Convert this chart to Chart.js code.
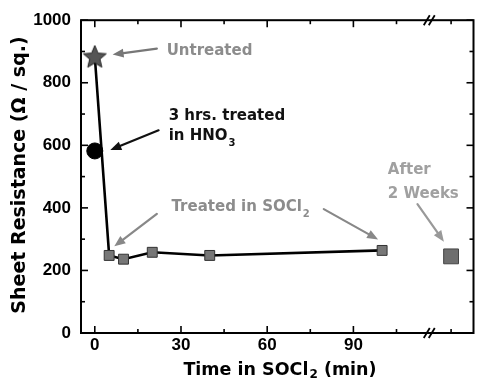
<!DOCTYPE html>
<html><head><meta charset="utf-8">
<script src="https://cdn.jsdelivr.net/npm/chart.js@4"></script>
<style>html,body{margin:0;padding:0;background:#fff}#c{display:block}</style>
</head><body><canvas id="c" width="485" height="386"></canvas>
<script>
// ---- data ----
const socl2Times = [0, 5, 10, 20, 40, 100];
const socl2Res = [884, 248, 236, 258, 248, 264];
const hno3Time = [0];
const hno3Res = [582];
const afterTime = [124];
const afterRes = [245];
const xTickLabels = [0, 30, 60, 90];
const yTickLabels = [0, 200, 400, 600, 800, 1000];
const xMinorTicks = [15, 45, 75, 105, 124];
const yMinorTicks = [100, 300, 500, 700, 900];
const xBreakAt = 116.4;

const FONT = '"Liberation Sans", Arial, sans-serif';
const WFONT = '"DejaVu Sans", "Liberation Sans", sans-serif';

function makeStar(size, fill) {
  const c = document.createElement('canvas');
  c.width = c.height = size;
  const g = c.getContext('2d');
  const cx = size / 2, cy = size / 2 + 1, R = size / 2 - 1, r = R * 0.45;
  g.beginPath();
  for (let i = 0; i < 10; i++) {
    const a = -Math.PI / 2 + i * Math.PI / 5;
    const rad = i % 2 ? r : R;
    g.lineTo(cx + rad * Math.cos(a), cy + rad * Math.sin(a));
  }
  g.closePath();
  g.fillStyle = fill; g.fill();
  g.strokeStyle = '#222'; g.lineWidth = 1; g.stroke();
  return c;
}
const starImg = makeStar(26, '#555');

const pts = (xs, ys) => xs.map((x, i) => ({ x: x, y: ys[i] }));

// annotation layout (data coordinates of the axes)
const notes = [
  { text: 'Untreated', x: 25, y: 902, color: '#8c8c8c' },
  { text: '3 hrs. treated', x: 25.7, y: 692, color: '#111' },
  { text: 'in HNO', sub: '3', x: 25.7, y: 629, color: '#111' },
  { text: 'Treated in SOCl', sub: '2', x: 26.7, y: 403, color: '#8c8c8c' },
  { text: 'After', x: 102, y: 522, color: '#a0a0a0' },
  { text: '2 Weeks', x: 102, y: 443, color: '#a0a0a0' }
];
const arrows = [
  { x1: 21.6, y1: 909, x2: 6.2, y2: 890, color: '#777' },
  { x1: 22.2, y1: 648, x2: 5.4, y2: 585, color: '#111' },
  { x1: 21.6, y1: 381, x2: 6.8, y2: 277, color: '#888' },
  { x1: 79.7, y1: 396, x2: 98.6, y2: 299, color: '#888' },
  { x1: 112.3, y1: 412, x2: 121.5, y2: 292, color: '#999' }
];

function drawArrow(ctx, x1, y1, x2, y2, color) {
  const a = Math.atan2(y2 - y1, x2 - x1);
  const L = 11, W = 4.5;
  const bx = x2 - L * Math.cos(a), by = y2 - L * Math.sin(a);
  ctx.save();
  ctx.strokeStyle = color; ctx.fillStyle = color;
  ctx.lineWidth = 2.2; ctx.lineCap = 'round';
  ctx.beginPath(); ctx.moveTo(x1, y1); ctx.lineTo(bx, by); ctx.stroke();
  ctx.beginPath();
  ctx.moveTo(x2, y2);
  ctx.lineTo(bx + W * Math.sin(a), by - W * Math.cos(a));
  ctx.lineTo(bx - W * Math.sin(a), by + W * Math.cos(a));
  ctx.closePath(); ctx.fill();
  ctx.restore();
}

const decor = {
  id: 'decor',
  beforeDatasetsDraw(chart) {
    const { ctx, chartArea: ca, scales: { x, y } } = chart;
    ctx.save();
    ctx.strokeStyle = '#000';
    ctx.lineWidth = 1.6;
    const tick = (x1, y1, x2, y2) => { ctx.beginPath(); ctx.moveTo(x1, y1); ctx.lineTo(x2, y2); ctx.stroke(); };
    xTickLabels.forEach(v => { const p = x.getPixelForValue(v); tick(p, ca.bottom, p, ca.bottom - 7); tick(p, ca.top, p, ca.top + 7); });
    xMinorTicks.forEach(v => { const p = x.getPixelForValue(v); tick(p, ca.bottom, p, ca.bottom - 4); tick(p, ca.top, p, ca.top + 4); });
    yTickLabels.forEach(v => { const p = y.getPixelForValue(v); tick(ca.left, p, ca.left + 7, p); tick(ca.right, p, ca.right - 7, p); });
    yMinorTicks.forEach(v => { const p = y.getPixelForValue(v); tick(ca.left, p, ca.left + 4, p); tick(ca.right, p, ca.right - 4, p); });
    // frame
    ctx.lineWidth = 2;
    ctx.strokeRect(ca.left, ca.top, ca.right - ca.left, ca.bottom - ca.top);
    // axis break marks
    const bx = x.getPixelForValue(xBreakAt);
    [ca.top, ca.bottom].forEach(yy => {
      ctx.lineWidth = 1.8;
      [-2.5, 2.5].forEach(o => tick(bx + o - 3, yy + 5, bx + o + 3, yy - 5));
    });
    ctx.restore();
  },
  afterDatasetsDraw(chart) {
    const { ctx, scales: { x, y } } = chart;
    ctx.save();
    // annotations
    ctx.textBaseline = 'middle';
    notes.forEach(n => {
      const px = x.getPixelForValue(n.x), py = y.getPixelForValue(n.y);
      ctx.fillStyle = n.color;
      ctx.font = 'bold 15px ' + WFONT;
      ctx.fillText(n.text, px, py);
      if (n.sub) {
        const w = ctx.measureText(n.text).width;
        ctx.font = 'bold 10px ' + WFONT;
        ctx.fillText(n.sub, px + w + 1, py + 7);
      }
    });
    arrows.forEach(a => drawArrow(ctx, x.getPixelForValue(a.x1), y.getPixelForValue(a.y1),
      x.getPixelForValue(a.x2), y.getPixelForValue(a.y2), a.color));
    // axis titles
    ctx.fillStyle = '#000';
    ctx.textBaseline = 'middle';
    ctx.textAlign = 'left';
    const t1 = 'Time in SOCl', t2 = '2', t3 = ' (min)';
    ctx.font = 'bold 17.5px ' + WFONT;
    const w1 = ctx.measureText(t1).width, w3 = ctx.measureText(t3).width;
    ctx.font = 'bold 12px ' + WFONT;
    const w2 = ctx.measureText(t2).width;
    let sx = 280 - (w1 + w2 + w3 + 1) / 2;
    const ty = 370;
    ctx.font = 'bold 17.5px ' + WFONT; ctx.fillText(t1, sx, ty);
    ctx.font = 'bold 12px ' + WFONT; ctx.fillText(t2, sx + w1 + 1, ty + 5);
    ctx.font = 'bold 17.5px ' + WFONT; ctx.fillText(t3, sx + w1 + w2 + 1, ty);
    ctx.translate(20, 175);
    ctx.rotate(-Math.PI / 2);
    ctx.textAlign = 'center';
    ctx.font = 'bold 19px ' + WFONT;
    ctx.fillText('Sheet Resistance (\u03A9 / sq.)', 0, 0);
    ctx.restore();
  }
};

new Chart(document.getElementById('c'), {
  type: 'scatter',
  data: {
    datasets: [
      {
        label: 'SOCl2',
        data: pts(socl2Times, socl2Res),
        showLine: true,
        borderColor: '#000',
        borderWidth: 2.6,
        pointStyle: c => c.dataIndex === 0 ? starImg : 'rect',
        pointRadius: 7,
        pointBackgroundColor: '#777',
        pointBorderColor: '#333',
        pointBorderWidth: 1
      },
      {
        label: 'HNO3',
        data: pts(hno3Time, hno3Res),
        pointStyle: 'circle',
        pointRadius: 8,
        pointBackgroundColor: '#000',
        pointBorderColor: '#000'
      },
      {
        label: 'After 2 weeks',
        data: pts(afterTime, afterRes),
        pointStyle: 'rect',
        pointRadius: 10.5,
        pointBackgroundColor: '#6e6e6e',
        pointBorderColor: '#444',
        pointBorderWidth: 1
      }
    ]
  },
  options: {
    responsive: false,
    animation: false,
    devicePixelRatio: 1,
    layout: { padding: { top: 16, right: 5, left: 0, bottom: 0 } },
    plugins: { legend: { display: false }, tooltip: { enabled: false } },
    scales: {
      x: {
        type: 'linear', min: -4.8, max: 131.8,
        afterBuildTicks: s => { s.ticks = xTickLabels.map(v => ({ value: v })); },
        afterFit: s => { s.height = 53; },
        grid: { display: false, drawTicks: false },
        border: { display: false },
        ticks: { color: '#000', font: { family: FONT, size: 17, weight: 'bold' }, padding: 2, maxRotation: 0, callback: v => String(v) }
      },
      y: {
        type: 'linear', min: 0, max: 1000,
        afterBuildTicks: s => { s.ticks = yTickLabels.map(v => ({ value: v })); },
        afterFit: s => { s.width = 81; },
        grid: { display: false, drawTicks: false },
        border: { display: false },
        ticks: { color: '#000', font: { family: FONT, size: 17, weight: 'bold' }, padding: 10, callback: v => String(v) }
      }
    }
  },
  plugins: [decor]
});
</script>
</body></html>
